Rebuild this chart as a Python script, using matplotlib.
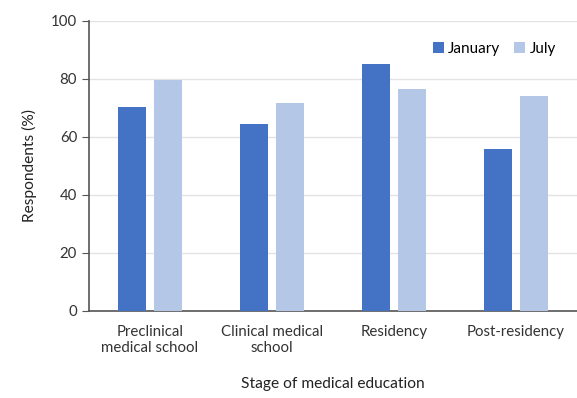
import matplotlib
matplotlib.use('Agg')
import matplotlib.pyplot as plt
import numpy as np

plt.rcParams['font.family'] = ['Lato', 'DejaVu Sans']

# Data
stages = ['Preclinical\nmedical school', 'Clinical medical\nschool', 'Residency', 'Post-residency']
january = [70.4, 64.4, 85.2, 55.7]
july = [79.6, 71.7, 76.7, 74.1]
yticks = [0, 20, 40, 60, 80, 100]

fig = plt.figure(figsize=(5.77, 3.98), dpi=100)
ax = fig.add_axes([89/577, 1 - 311/398, 488/577, 290/398])

x = np.arange(len(stages))
w = 0.23
ax.bar(x - 0.145, january, width=w, color='#4472C4', label='January', zorder=3)
ax.bar(x + 0.145, july, width=w, color='#B4C7E7', label='July', zorder=3)

ax.set_xlim(-0.5, len(stages) - 0.5)
ax.set_ylim(0, 100)
ax.set_yticks(yticks)
ax.set_xticks(x)
ax.set_xticklabels(stages, fontsize=10.8, color='#333333')
ax.tick_params(axis='x', length=0, pad=10)
ax.tick_params(axis='y', labelsize=10.8, labelcolor='#333333', color='#555555',
               length=5, direction='out')
ax.yaxis.grid(True, color='#E3E3E3', linewidth=1, zorder=0)

for s in ['top', 'right']:
    ax.spines[s].set_visible(False)
for s in ['left', 'bottom']:
    ax.spines[s].set_color('#555555')
    ax.spines[s].set_linewidth(1.2)

ax.set_ylabel('Respondents (%)', fontsize=11.2, color='#222222', labelpad=10)
ax.set_xlabel('Stage of medical education', fontsize=11.2, color='#222222', labelpad=16)

ax.legend(loc='upper right', bbox_to_anchor=(0.985, 0.975), ncol=2, frameon=False,
          fontsize=11, handlelength=0.7, handleheight=0.7, columnspacing=0.9,
          handletextpad=0.3)

fig.savefig('out.png', dpi=100)
